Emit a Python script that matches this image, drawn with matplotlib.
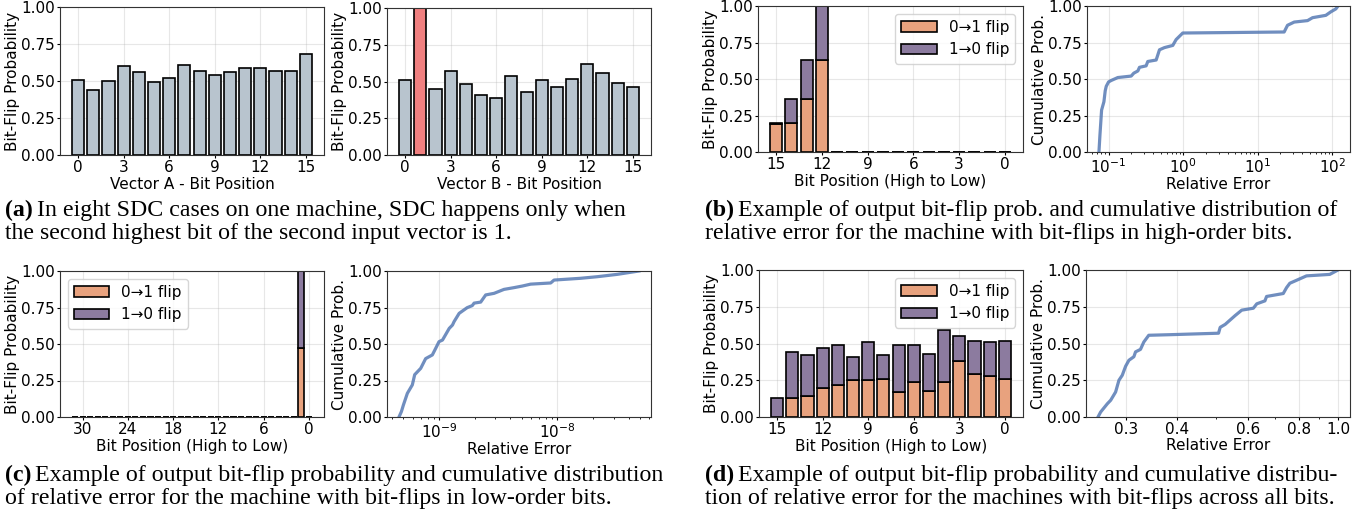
import numpy as np
import matplotlib
matplotlib.use("Agg")
import matplotlib.pyplot as plt
from matplotlib.ticker import FixedLocator, FormatStrFormatter, NullFormatter

# ---- data ----
bits16 = list(range(16))
bits32 = list(range(32))

# (a) per-bit flip probability of the two input vectors
vec_a_prob = [0.51, 0.44, 0.50, 0.60, 0.56, 0.49, 0.52, 0.61, 0.57, 0.54, 0.56, 0.59, 0.59, 0.57, 0.57, 0.68]
vec_b_prob = [0.51, 1.00, 0.45, 0.57, 0.48, 0.41, 0.39, 0.54, 0.43, 0.51, 0.46, 0.52, 0.62, 0.56, 0.49, 0.46]
highlight_bit = 1

# (b) high-order bit flips (index = bit position)
b_up = [0, 0, 0, 0, 0, 0, 0, 0, 0, 0, 0, 0, 0.63, 0.36, 0.20, 0.19]
b_down = [0, 0, 0, 0, 0, 0, 0, 0, 0, 0, 0, 0, 0.37, 0.27, 0.16, 0.01]
b_err = [0.0743, 0.0766, 0.0806, 0.0866, 0.0902, 0.0931, 0.100, 0.1086, 0.133, 0.201, 0.218, 0.247,
         0.260, 0.319, 0.336, 0.435, 0.482, 0.562, 0.727, 0.806, 0.99, 22.7, 25.2, 31.0, 46.8, 54.6,
         82.2, 96.0, 112.0, 120.0]
b_cdf = [0.0, 0.116, 0.287, 0.344, 0.42, 0.45, 0.48, 0.49, 0.51, 0.52, 0.54, 0.555,
         0.58, 0.59, 0.62, 0.63, 0.70, 0.715, 0.73, 0.77, 0.815, 0.822, 0.868, 0.89, 0.90, 0.92,
         0.936, 0.96, 0.98, 1.0]

# (c) low-order bit flips, 32-bit output
c_up = [0.0] * 32
c_down = [0.0] * 32
c_up[1] = 0.47
c_down[1] = 0.53
c_err = [4.59e-10, 4.81e-10, 5.00e-10, 5.40e-10, 5.95e-10, 6.23e-10, 7.00e-10, 7.71e-10, 8.78e-10,
         9.37e-10, 1.00e-9, 1.07e-9, 1.22e-9, 1.30e-9, 1.34e-9, 1.48e-9, 1.73e-9, 1.91e-9, 1.98e-9,
         2.25e-9, 2.48e-9, 2.92e-9, 3.54e-9, 4.30e-9, 5.06e-9, 5.95e-9, 8.79e-9, 9.38e-9, 1.57e-8,
         2.18e-8, 3.21e-8, 4.90e-8]
c_cdf = [0.0, 0.037, 0.082, 0.162, 0.22, 0.29, 0.333, 0.40, 0.425, 0.47, 0.516, 0.527, 0.607,
         0.63, 0.653, 0.71, 0.749, 0.763, 0.78, 0.787, 0.836, 0.847, 0.874, 0.886, 0.897, 0.91,
         0.918, 0.938, 0.95, 0.961, 0.977, 1.0]

# (d) flips across all bits (index = bit position)
d_up = [0.26, 0.28, 0.29, 0.38, 0.24, 0.18, 0.24, 0.17, 0.26, 0.25, 0.25, 0.22, 0.20, 0.14, 0.13, 0.00]
d_total = [0.52, 0.51, 0.52, 0.55, 0.59, 0.43, 0.49, 0.49, 0.42, 0.51, 0.41, 0.49, 0.47, 0.42, 0.44, 0.13]
d_err = [0.2555, 0.2594, 0.2694, 0.2746, 0.2824, 0.2878, 0.2933, 0.2989, 0.3046, 0.3133, 0.3163,
         0.3253, 0.3315, 0.3410, 0.3855, 0.5070, 0.5118, 0.5265, 0.5416, 0.5572, 0.5786, 0.618,
         0.6302, 0.660, 0.6663, 0.7325, 0.7464, 0.7605, 0.790, 0.836, 0.954, 1.0]
d_cdf = [0.0, 0.034, 0.09, 0.114, 0.17, 0.25, 0.284, 0.345, 0.386, 0.41, 0.443, 0.46, 0.51,
         0.556, 0.56, 0.57, 0.61, 0.63, 0.66, 0.69, 0.727, 0.74, 0.77, 0.79, 0.82, 0.84, 0.88,
         0.91, 0.93, 0.96, 0.97, 1.0]

captions = {
    "a": ["In eight SDC cases on one machine, SDC happens only when",
          "the second highest bit of the second input vector is 1."],
    "b": ["Example of output bit-flip prob. and cumulative distribution of",
          "relative error for the machine with bit-flips in high-order bits."],
    "c": ["Example of output bit-flip probability and cumulative distribution",
          "of relative error for the machine with bit-flips in low-order bits."],
    "d": ["Example of output bit-flip probability and cumulative distribu-",
          "tion of relative error for the machines with bit-flips across all bits."],
}

# ---- style ----
GRAY = "#B8C4CE"
RED = "#F08080"
ORANGE = "#E8A27E"
PURPLE = "#8C7B9F"
LINE = "#4C72B0"
FS = 11

W, H = 1364, 529
fig = plt.figure(figsize=(W / 100, H / 100), dpi=100)


def px_axes(l, t, r, b):
    return fig.add_axes([l / W, 1 - b / H, (r - l) / W, (b - t) / H])


def style(ax):
    ax.grid(True, alpha=0.3)
    ax.set_axisbelow(True)
    ax.tick_params(labelsize=FS, length=2, pad=1.5)
    ax.tick_params(which="minor", length=1.5)
    for s in ax.spines.values():
        s.set_color("#333333")


def prob_bars(ax, probs, xlabel, colors):
    ax.bar(bits16, probs, width=0.8, color=colors, edgecolor="black", linewidth=1.2)
    ax.set_ylim(0, 1)
    ax.set_yticks([0, 0.25, 0.5, 0.75, 1.0])
    ax.set_xticks([0, 3, 6, 9, 12, 15])
    ax.set_xlabel(xlabel, fontsize=FS, labelpad=1.5)
    ax.set_ylabel("Bit-Flip Probability", fontsize=FS, labelpad=1)
    style(ax)


def stacked(ax, bits, up, down, ticks, legend_loc):
    ax.bar(bits, up, width=0.8, color=ORANGE, edgecolor="black", linewidth=1.2, label="0→1 flip")
    ax.bar(bits, down, width=0.8, bottom=up, color=PURPLE, edgecolor="black", linewidth=1.2,
           label="1→0 flip")
    ax.set_ylim(0, 1)
    ax.set_yticks([0, 0.25, 0.5, 0.75, 1.0])
    ax.set_xticks(ticks)
    ax.invert_xaxis()
    ax.set_xlabel("Bit Position (High to Low)", fontsize=FS, labelpad=1.5)
    ax.set_ylabel("Bit-Flip Probability", fontsize=FS, labelpad=1)
    ax.legend(loc=legend_loc, fontsize=FS, handlelength=2.3)
    style(ax)


def cdf(ax, err, prob):
    ax.plot(err, prob, color=LINE, alpha=0.8, linewidth=2.3)
    ax.set_xscale("log")
    ax.set_ylim(0, 1)
    ax.set_yticks([0, 0.25, 0.5, 0.75, 1.0])
    ax.set_xlabel("Relative Error", fontsize=FS, labelpad=1)
    ax.set_ylabel("Cumulative Prob.", fontsize=FS, labelpad=1)
    style(ax)


# (a)
ax = px_axes(60, 7, 324, 155)
prob_bars(ax, vec_a_prob, "Vector A - Bit Position", [GRAY] * 16)
ax = px_axes(387, 8, 651, 155)
prob_bars(ax, vec_b_prob, "Vector B - Bit Position",
          [RED if i == highlight_bit else GRAY for i in bits16])

# (b)
ax = px_axes(758, 6, 1023, 152)
stacked(ax, bits16, b_up, b_down, [15, 12, 9, 6, 3, 0], "upper right")
ax = px_axes(1087, 6, 1350, 152)
cdf(ax, b_err, b_cdf)

# (c)
ax = px_axes(60, 271, 324, 417)
stacked(ax, bits32, c_up, c_down, [30, 24, 18, 12, 6, 0], "upper left")
ax = px_axes(387, 271, 651, 417)
cdf(ax, c_err, c_cdf)

# (d)
d_down = [t - u for t, u in zip(d_total, d_up)]
ax = px_axes(759, 270, 1023, 417)
stacked(ax, bits16, d_up, d_down, [15, 12, 9, 6, 3, 0], "upper right")
ax = px_axes(1086, 270, 1350, 417)
cdf(ax, d_err, d_cdf)
ax.xaxis.set_major_locator(FixedLocator([0.3, 0.4, 0.6, 0.8, 1.0]))
ax.xaxis.set_major_formatter(FormatStrFormatter("%.1f"))
ax.xaxis.set_minor_formatter(NullFormatter())

# ---- captions ----
CAP_FONT = "Liberation Serif"
CAP_FS = 17.2
renderer = fig.canvas.get_renderer()
for key, x0, y0 in [("a", 5, 216), ("b", 705, 216), ("c", 5, 481), ("d", 705, 481)]:
    lab = fig.text(x0 / W, 1 - y0 / H, f"({key})", fontsize=CAP_FS, family=CAP_FONT,
                   fontweight="bold", va="baseline")
    bb = lab.get_window_extent(renderer)
    fig.text((bb.x1 + 4) / W, 1 - y0 / H, captions[key][0], fontsize=CAP_FS, family=CAP_FONT,
             va="baseline")
    fig.text(x0 / W, 1 - (y0 + 23) / H, captions[key][1], fontsize=CAP_FS, family=CAP_FONT,
             va="baseline")

fig.savefig("out.png", dpi=100)
